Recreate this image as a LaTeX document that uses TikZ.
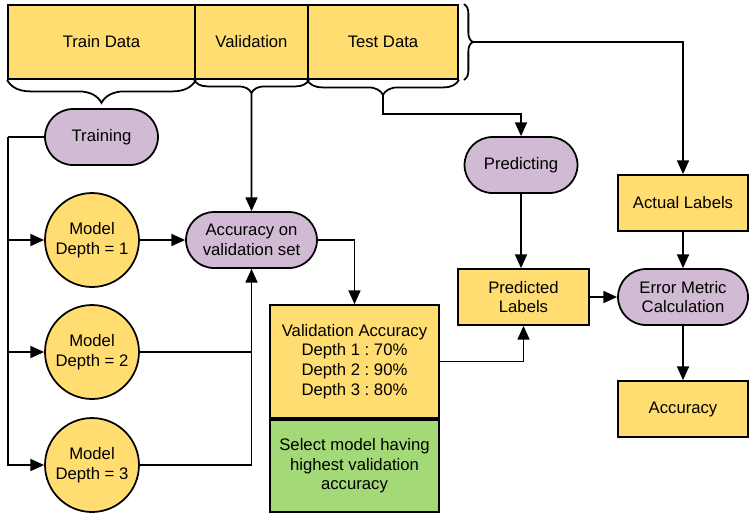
\documentclass[tikz,border=0pt]{standalone}
\usepackage{fontspec}
\setmainfont{Liberation Sans}
\usetikzlibrary{arrows.meta,shapes.misc,decorations.pathreplacing}
\definecolor{datayellow}{HTML}{FFDD71}
\definecolor{steppurple}{HTML}{D1BAD3}
\definecolor{selgreen}{HTML}{A3D977}
\frenchspacing

\begin{document}
\begin{tikzpicture}[x=0.02cm,y=-0.02cm,>={Triangle[length=7.8pt,width=6.8pt]},line width=1pt,
    font=\fontsize{9.5}{11.3}\selectfont,
    databox/.style={draw,fill=datayellow,align=center,inner sep=0pt,minimum height=1.12cm},
    process/.style={draw,fill=steppurple,rounded rectangle,align=center,inner sep=0pt,minimum height=1.12cm},
    model/.style={draw,fill=datayellow,circle,align=center,inner sep=0pt,minimum size=1.88cm},
    curly/.style={decorate,decoration={brace,amplitude=#1}}]
    \useasboundingbox (0,0) rectangle (749,512);

    % data split
    \node[databox,minimum width=3.74cm,minimum height=1.48cm] (train) at (101.5,42) {Train Data};
    \node[databox,minimum width=2.26cm,minimum height=1.48cm] (valid) at (251.5,42) {Validation};
    \node[databox,minimum width=3.0cm,minimum height=1.48cm] (test) at (383,42) {Test Data};
    \draw[curly=0.46cm] (train.south east) -- (train.south west);
    \draw[curly=0.26cm] (valid.south east) -- (valid.south west);
    \draw[curly=0.3cm] (test.south east) -- (test.south west);
    \draw[curly=0.18cm] ([xshift=0.1cm]test.north east) -- ([xshift=0.1cm]test.south east);
    \coordinate (trainTip) at (101.5,103);
    \coordinate (validTip) at (251.5,92);
    \coordinate (testTip) at (383,94);
    \coordinate (splitTip) at (472,42);

    % model selection
    \node[process,minimum width=2.26cm] (training) at (101.5,137) {Training};
    \node[model] (m1) at (92,240) {Model\\Depth = 1};
    \node[model] (m2) at (92,352) {Model\\Depth = 2};
    \node[model] (m3) at (92,465) {Model\\Depth = 3};
    \node[process,minimum width=2.62cm] (acc) at (251.5,240) {Accuracy on\\validation set};
    \node[databox,minimum width=3.38cm,minimum height=2.26cm] (valacc) at (354.5,361.5) {Validation Accuracy\\Depth 1 : 70\%\\Depth 2 : 90\%\\Depth 3 : 80\%};
    \node[databox,fill=selgreen,minimum width=3.38cm,minimum height=1.84cm,anchor=north] (select) at (valacc.south) {Select model having\\highest validation\\accuracy};

    % testing
    \node[process,minimum width=2.26cm] (predicting) at (521,165) {Predicting};
    \node[databox,minimum width=2.62cm] (predicted) at (523.5,297) {Predicted\\Labels};
    \node[databox,minimum width=2.6cm] (actual) at (683,203) {Actual Labels};
    \node[process,minimum width=2.6cm] (error) at (683,297) {Error Metric\\Calculation};
    \node[databox,minimum width=2.6cm] (result) at (683,409) {Accuracy};

    \coordinate (trunk) at (8,137);
    \coordinate (testBend) at (521,114);
    \draw (training) -- (trunk);
    \draw[->] (trunk) |- (m1);
    \draw[->] (trunk) |- (m2);
    \draw[->] (trunk) |- (m3);
    \draw[->] (m1) -- (acc);
    \draw (m2) -| (acc.south);
    \draw[->] (m3) -| (acc.south);
    \draw[->] (validTip) -- (acc);
    \draw[->] (acc) -| (valacc);
    \draw[->] (valacc) -| (predicted.south);
    \draw[->] (testTip) |- (testBend) -- (predicting);
    \draw[->] (predicting) -- (predicting |- predicted.north);
    \draw[->] (splitTip) -| (actual);
    \draw[->] (predicted) -- (error);
    \draw[->] (actual) -- (error);
    \draw[->] (error) -- (result);
\end{tikzpicture}
\end{document}
